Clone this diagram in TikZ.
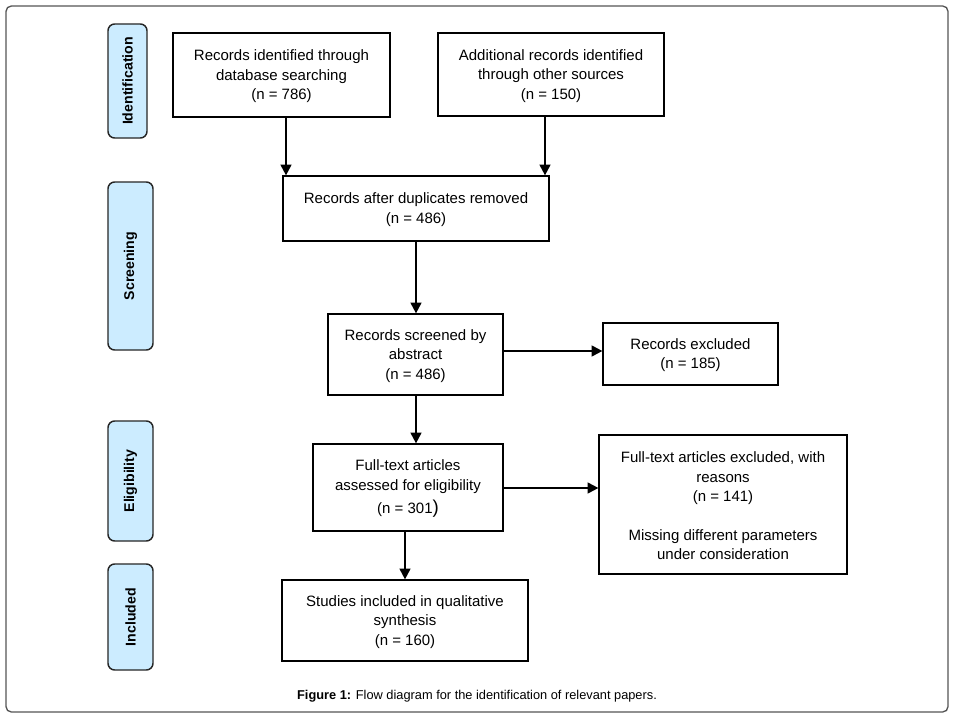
\documentclass[tikz,border=0pt]{standalone}
\usepackage{fontspec}
\setmainfont{Liberation Sans}
\usetikzlibrary{fit,arrows.meta}
\definecolor{sideblue}{HTML}{CCECFF}
\definecolor{framegray}{HTML}{555555}
\tikzset{
  box/.style={draw=black, line width=0.9pt, inner sep=0pt},
  boxtext/.style={inner sep=0pt, align=center, yshift=-1pt,
    font=\fontsize{11.25pt}{14.6pt}\selectfont},
  sidebox/.style={draw=black!85, fill=sideblue, line width=1.1pt, rounded corners=5pt, inner sep=0pt},
  sidetext/.style={rotate=90, font=\bfseries\fontsize{10.6pt}{12pt}\selectfont},
  arr/.style={line width=1.5pt, -{Triangle[length=8pt,width=8pt]}},
}
\begin{document}
\begin{tikzpicture}[x=0.75pt,y=-0.75pt]
\useasboundingbox (0,0) rectangle (956,717);
\fill[white] (0,0) rectangle (956,717);
\draw[framegray, line width=1pt, rounded corners=4pt] (6,6) rectangle (948,712);

% side labels
\node[sidebox, fit={(108,24) (147,138)}] (s1) {};
\node[sidetext] (t1) at (s1.center) {Identification};
\node[sidebox, fit={(108,182) (153,350)}] (s2) {};
\node[sidetext] (t2) at (s2.center) {Screening};
\node[sidebox, fit={(108,421) (153,541)}] (s3) {};
\node[sidetext] (t3) at (s3.center) {Eligibility};
\node[sidebox, fit={(108,564) (153,670)}] (s4) {};
\node[sidetext] (t4) at (s4.center) {Included};

% boxes
\node[box, fit={(173,33) (390,117)}] (b1) {};
\node[boxtext] (l1) at (b1.center) {Records identified through\\database searching\\(n = 786)};
\node[box, fit={(438,33) (664,116)}] (b2) {};
\node[boxtext] (l2) at (b2.center) {Additional records identified\\through other sources\\(n = 150)};
\node[box, fit={(283,176) (549,241)}] (b3) {};
\node[boxtext] (l3) at (b3.center) {Records after duplicates removed\\(n = 486)};
\node[box, fit={(328,314) (503,395)}] (b4) {};
\node[boxtext] (l4) at (b4.center) {Records screened by\\abstract\\(n = 486)};
\node[box, fit={(603,323) (778,385)}] (b5) {};
\node[boxtext] (l5) at (b5.center) {Records excluded\\(n = 185)};
\node[box, fit={(313,444) (503,531)}] (b6) {};
\node[boxtext] (l6) at (b6.center) {Full-text articles\\assessed for eligibility\\[3pt](n = 301{\fontsize{14pt}{14pt}\selectfont)}};
\node[box, fit={(599,435) (847,574)}] (b7) {};
\node[boxtext] (l7) at (b7.center) {Full-text articles excluded, with\\reasons\\(n = 141)\\[14.6pt]Missing different parameters\\under consideration};
\node[box, fit={(282,580) (528,661)}] (b8) {};
\node[boxtext] (l8) at (b8.center) {Studies included in qualitative\\synthesis\\(n = 160)};

% connectors
\coordinate (x1) at (286,0);
\coordinate (x2) at (545,0);
\coordinate (x3) at (416,0);
\coordinate (x4) at (405,0);
\coordinate (y1) at (0,351);
\coordinate (y2) at (0,488);
\draw[arr] (b1.south -| x1) -- (b3.north -| x1);
\draw[arr] (b2.south -| x2) -- (b3.north -| x2);
\draw[arr] (b3.south -| x3) -- (b4.north -| x3);
\draw[arr] (b4.south -| x3) -- (b6.north -| x3);
\draw[arr] (b4.east |- y1) -- (b5.west |- y1);
\draw[arr] (b6.east |- y2) -- (b7.west |- y2);
\draw[arr] (b6.south -| x4) -- (b8.north -| x4);

% caption
\node[font=\fontsize{9.6pt}{11pt}\selectfont] (cap) at (477,696) {\textbf{Figure 1:} Flow diagram for the identification of relevant papers.};
\end{tikzpicture}
\end{document}
